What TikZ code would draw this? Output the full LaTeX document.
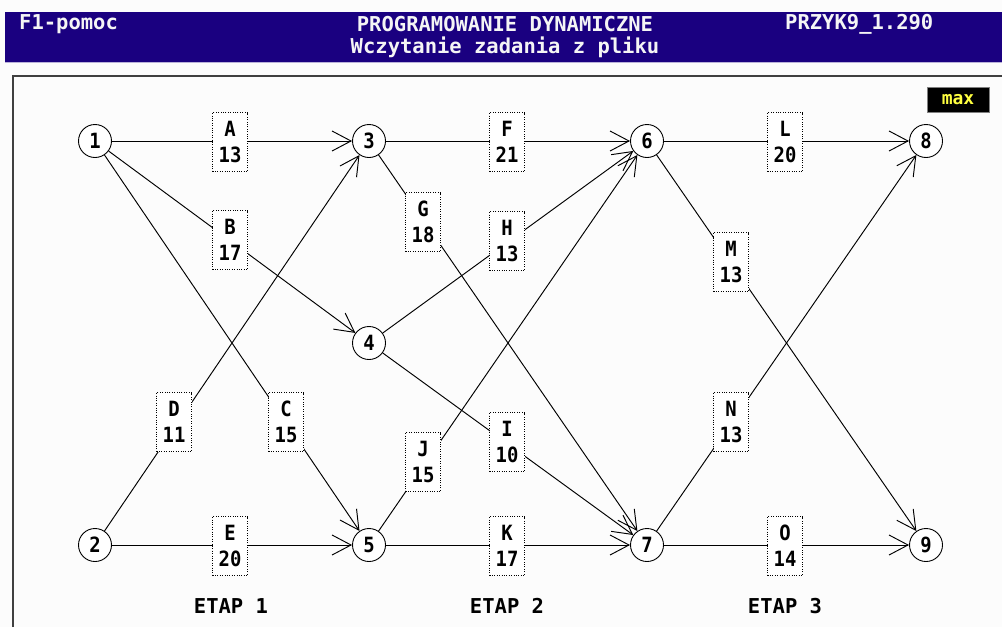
\documentclass[tikz,border=0pt]{standalone}
\usepackage{fontspec}
\newfontfamily\dosfont[FakeStretch=0.9]{DejaVu Sans Mono}
\newfontfamily\dosheadfont{DejaVu Sans Mono}
\usetikzlibrary{arrows.meta}
\definecolor{barblue}{HTML}{1A0080}
\definecolor{maxyellow}{HTML}{FFFF40}
\definecolor{frameline}{HTML}{404040}
\definecolor{paper}{HTML}{FCFCFC}
\begin{document}
\begin{tikzpicture}[x=1pt,y=-1pt,
  state/.style={circle,draw,line width=0.9pt,fill=white,minimum size=33pt,inner sep=0pt,
    font=\dosfont\bfseries\fontsize{21}{21}\selectfont},
  weight/.style={draw,dash pattern=on 1pt off 1.4pt,line width=0.8pt,fill=white,
    minimum width=35pt,minimum height=59pt,inner sep=0pt,align=center,
    font=\dosfont\bfseries\fontsize{21}{26}\selectfont},
  edge/.style={line width=0.95pt,-{Straight Barb[length=19pt,width=20pt,line width=0.95pt]}},
  head/.style={text=white!92!gray,inner sep=0pt,font=\dosheadfont\bfseries\fontsize{20.5}{20.5}\selectfont},
  stage/.style={inner sep=0pt,font=\dosheadfont\bfseries\fontsize{20.5}{20.5}\selectfont}]
\useasboundingbox (0,0) rectangle (1002,627);
\fill[paper] (0,0) rectangle (1002,627);

% title bar
\fill[barblue] (5,12) rectangle (1002,62);
\draw[white!70!barblue,line width=1pt] (5,62.5) -- (1002,62.5);
\node[head,anchor=west] (help) at (19,24) {F1-pomoc};
\node[head] (title) at (505,24) {PROGRAMOWANIE DYNAMICZNE};
\node[head] (subtitle) at (505,47) {Wczytanie zadania z pliku};
\node[head,anchor=west] (file) at (785,24) {PRZYK9\_1.290};

% drawing area frame
\draw[frameline,line width=2pt] (13,627) -- (13,76) -- (1002,76);

% max indicator
\node[fill=black,draw=gray,line width=0.5pt,minimum width=62pt,minimum height=25pt,inner sep=0pt,
  text=maxyellow,font=\dosheadfont\bfseries\fontsize{18}{18}\selectfont] (mode) at (958,100) {max};

% states
\node[state] (n1) at (95,141) {1};
\node[state] (n2) at (95,545) {2};
\node[state] (n3) at (369,141) {3};
\node[state] (n4) at (369,343) {4};
\node[state] (n5) at (369,545) {5};
\node[state] (n6) at (647,141) {6};
\node[state] (n7) at (647,545) {7};
\node[state] (n8) at (926,141) {8};
\node[state] (n9) at (926,545) {9};

% transitions
\draw[edge] (n1) -- (n3);
\draw[edge] (n1) -- (n4);
\draw[edge] (n1) -- (n5);
\draw[edge] (n2) -- (n3);
\draw[edge] (n2) -- (n5);
\draw[edge] (n3) -- (n6);
\draw[edge] (n3) -- (n7);
\draw[edge] (n4) -- (n6);
\draw[edge] (n4) -- (n7);
\draw[edge] (n5) -- (n6);
\draw[edge] (n5) -- (n7);
\draw[edge] (n6) -- (n8);
\draw[edge] (n6) -- (n9);
\draw[edge] (n7) -- (n8);
\draw[edge] (n7) -- (n9);

% transition labels
\node[weight] (wA) at (230,142) {A\\13};
\node[weight] (wB) at (230,240) {B\\17};
\node[weight] (wC) at (286,422) {C\\15};
\node[weight] (wD) at (174,422) {D\\11};
\node[weight] (wE) at (230,546) {E\\20};
\node[weight] (wF) at (507,142) {F\\21};
\node[weight] (wG) at (423,222) {G\\18};
\node[weight] (wH) at (507,241) {H\\13};
\node[weight] (wI) at (507,442) {I\\10};
\node[weight] (wJ) at (423,462) {J\\15};
\node[weight] (wK) at (507,546) {K\\17};
\node[weight] (wL) at (785,142) {L\\20};
\node[weight] (wM) at (731,262) {M\\13};
\node[weight] (wN) at (731,422) {N\\13};
\node[weight] (wO) at (785,546) {O\\14};

% stage captions
\node[stage] (s1) at (231,606) {ETAP 1};
\node[stage] (s2) at (507,606) {ETAP 2};
\node[stage] (s3) at (785,606) {ETAP 3};
\end{tikzpicture}
\end{document}
